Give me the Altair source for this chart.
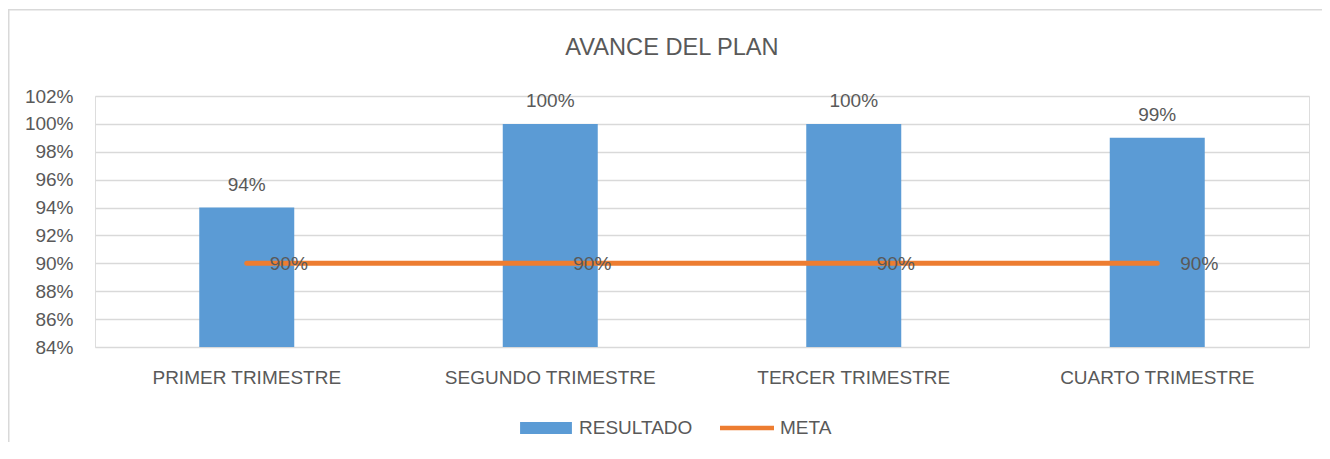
import altair as alt
import pandas as pd

# ---- data ----
categories = ["PRIMER TRIMESTRE", "SEGUNDO TRIMESTRE", "TERCER TRIMESTRE", "CUARTO TRIMESTRE"]
resultado = [0.94, 1.00, 1.00, 0.99]
meta = [0.90, 0.90, 0.90, 0.90]
series = ["RESULTADO", "META"]
y_ticks = [0.84, 0.86, 0.88, 0.90, 0.92, 0.94, 0.96, 0.98, 1.00, 1.02]
title_text = "AVANCE DEL PLAN"

BLUE = "#5B9BD5"
ORANGE = "#ED7D31"
TXT = "#595959"
GRID = "#D9D9D9"
FONT = "Liberation Sans, Arial"
FS = 19

W, H = 1214, 251
PAD = {"left": 87, "top": 88, "right": 13, "bottom": 95}

df = pd.DataFrame({"cat": categories, "resultado": resultado, "meta": meta})
df_leg = pd.DataFrame({"serie": series, "cat": [categories[0]] * 2, "v": [0.5, 0.5]})
df_title = pd.DataFrame({"t": [title_text]})
df_btop = pd.DataFrame({"edge": ["top"]})
df_bleft = pd.DataFrame({"edge": ["left"]})

xsc = alt.Scale(domain=categories, paddingInner=0.687, paddingOuter=0.3435)
ysc = alt.Scale(domain=[y_ticks[0], y_ticks[-1]], zero=False, nice=False)

x_axis = alt.Axis(labelAngle=0, domain=False, ticks=False, grid=False,
                  labelFontSize=FS, labelColor=TXT, labelFont=FONT,
                  labelPadding=21, labelLimit=400)
y_axis = alt.Axis(values=y_ticks, format=".0%", domain=False, ticks=False,
                  grid=True, gridColor=GRID, gridWidth=1.5, labelOverlap=False,
                  labelFontSize=FS, labelColor=TXT, labelFont=FONT,
                  labelPadding=22, labelBaseline="middle")


def xe():
    return alt.X("cat:N", scale=xsc, sort=categories, title=None, axis=x_axis)


def ye(field):
    return alt.Y(field, scale=ysc, title=None, axis=y_axis)


base = alt.Chart(df)

bars = base.mark_bar(color=BLUE).encode(
    x=xe(), y=ye("resultado:Q"), y2=alt.Y2(datum=y_ticks[0]),
)

bar_labels = base.mark_text(baseline="middle", dy=-23, fontSize=FS, font=FONT, color=TXT).encode(
    x=xe(), y=ye("resultado:Q"),
    text=alt.Text("resultado:Q", format=".0%"),
)

line = base.mark_line(color=ORANGE, strokeWidth=5, strokeCap="round").encode(
    x=xe(), y=ye("meta:Q"),
)

line_labels = base.mark_text(align="left", baseline="middle", dx=23, dy=1,
                             fontSize=FS, font=FONT, color=TXT).encode(
    x=xe(), y=ye("meta:Q"),
    text=alt.Text("meta:Q", format=".0%"),
)

rect_path = "M-0.96,-0.22L0.96,-0.22L0.96,0.22L-0.96,0.22Z"
line_path = "M-1,-0.085L1,-0.085L1,0.085L-1,0.085Z"

legend_layer = alt.Chart(df_leg).mark_point(filled=True, clip=True, opacity=1).encode(
    x=xe(), y=ye("v:Q"),
    color=alt.Color("serie:N", title=None,
                    scale=alt.Scale(domain=series, range=[BLUE, ORANGE]),
                    legend=alt.Legend(orient="none", direction="horizontal",
                                      legendX=424, legendY=305,
                                      symbolSize=2916, symbolStrokeWidth=0,
                                      symbolOpacity=1,
                                      labelFontSize=FS, labelFont=FONT, labelColor=TXT,
                                      labelOffset=6, columnPadding=27, labelLimit=300)),
    shape=alt.Shape("serie:N", title=None,
                    scale=alt.Scale(domain=series, range=[rect_path, line_path])),
)

title = alt.Chart(df_title).mark_text(fontSize=23.6, font=FONT, color=TXT,
                                      baseline="middle", align="center").encode(
    text="t:N", x=alt.value(577), y=alt.value(-48))

# chart-area border: thin filled strips along the top and left edges
border_top = alt.Chart(df_btop).mark_rect(fill=GRID, strokeWidth=0).encode(
    x=alt.value(-87), x2=alt.value(W + PAD["right"]), y=alt.value(-87), y2=alt.value(-85.5))
border_left = alt.Chart(df_bleft).mark_rect(fill=GRID, strokeWidth=0).encode(
    x=alt.value(-87), x2=alt.value(-85.5), y=alt.value(-87), y2=alt.value(H + PAD["bottom"]))

chart = alt.layer(bars, line, bar_labels, line_labels, legend_layer, title,
                  border_top, border_left).properties(
    width=W, height=H,
    autosize=alt.AutoSizeParams(type="none"),
    padding=PAD,
).configure_view(stroke=None).configure(background="white")

chart.save("out.html", embed_options={"renderer": "svg", "actions": False})
